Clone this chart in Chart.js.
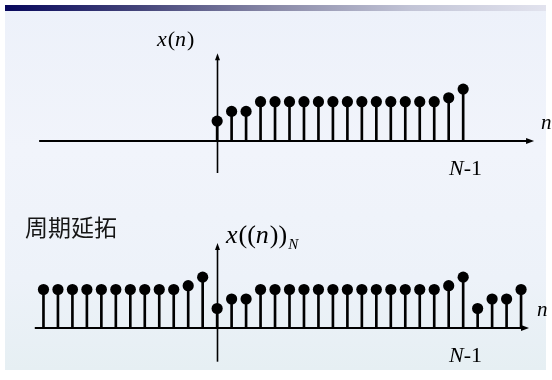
<!DOCTYPE html>
<html>
<head>
<meta charset="utf-8">
<script src="https://cdn.jsdelivr.net/npm/chart.js@4/dist/chart.umd.min.js"></script>
<style>
  html, body { margin: 0; padding: 0; background: #fff; }
  #slide {
    position: absolute; left: 5px; top: 5px; width: 541px; height: 365px;
    background: linear-gradient(180deg, #edf1fa 0%, #f1f4fb 40%, #edf2f9 75%, #e6eff3 100%);
  }
  #bar {
    position: absolute; left: 5px; top: 5px; width: 541px; height: 6px;
    background: linear-gradient(90deg, #08085c 0%, #45457a 25%, #8a8aa8 50%, #c2c4d6 75%, #e2e3ee 100%);
  }
  canvas { position: absolute; left: 0; top: 0; }
</style>
</head>
<body>
<div id="slide"></div>
<div id="bar"></div>
<canvas id="topChart" width="552" height="380"></canvas>
<canvas id="perChart" width="552" height="380"></canvas>
<script>
// x(n), n = 0 .. N-1 (N = 18)
const nTop = [0, 1, 2, 3, 4, 5, 6, 7, 8, 9, 10, 11, 12, 13, 14, 15, 16, 17];
const xTop = [2, 3, 3, 4, 4, 4, 4, 4, 4, 4, 4, 4, 4, 4, 4, 4, 4.4, 5.3];

// x((n))_N, periodic extension shown for n = -12 .. 21
const nPer = [-12, -11, -10, -9, -8, -7, -6, -5, -4, -3, -2, -1,
              0, 1, 2, 3, 4, 5, 6, 7, 8, 9, 10, 11, 12, 13, 14, 15, 16, 17,
              18, 19, 20, 21];
const xPer = [4, 4, 4, 4, 4, 4, 4, 4, 4, 4, 4.4, 5.3,
              2, 3, 3, 4, 4, 4, 4, 4, 4, 4, 4, 4, 4, 4, 4, 4, 4.4, 5.3,
              2, 3, 3, 4];

const serif = '"Liberation Serif", "DejaVu Serif", serif';

// draws mixed italic / upright pieces one after another
// piece: [text, italic, size, dy, gapAfter]
function drawMath(ctx, parts, x, y) {
    let cx = x;
    parts.forEach(p => {
        const [text, italic, size, dy, gap] = p;
        ctx.font = (italic ? 'italic ' : '') + size + 'px ' + serif;
        ctx.fillText(text, cx, y + (dy || 0));
        cx += ctx.measureText(text).width + (gap || 0);
    });
}

const stemAxes = {
    id: 'stemAxes',
    beforeDatasetsDraw(chart, args, o) {
        const { ctx } = chart;
        const x = chart.scales.x, y = chart.scales.y;
        const y0 = Math.round(y.getPixelForValue(0));
        const x0 = Math.round(x.getPixelForValue(0)) + 0.5;
        const xa = x.getPixelForValue(o.xFrom), xb = x.getPixelForValue(o.xTo);
        const ya = y.getPixelForValue(o.yFrom), yb = y.getPixelForValue(o.yTo);
        ctx.save();
        ctx.strokeStyle = '#000';
        ctx.fillStyle = '#000';

        // horizontal axis with arrow
        ctx.lineWidth = 2;
        ctx.beginPath();
        ctx.moveTo(xa, y0);
        ctx.lineTo(xb - 5, y0);
        ctx.stroke();
        ctx.beginPath();
        ctx.moveTo(xb, y0);
        ctx.lineTo(xb - 8, y0 - 3);
        ctx.lineTo(xb - 8, y0 + 3);
        ctx.closePath();
        ctx.fill();

        // vertical axis with arrow
        ctx.lineWidth = 1.6;
        ctx.beginPath();
        ctx.moveTo(x0, ya);
        ctx.lineTo(x0, yb + 5);
        ctx.stroke();
        ctx.beginPath();
        ctx.moveTo(x0, yb);
        ctx.lineTo(x0 - 2.5, yb + 7);
        ctx.lineTo(x0 + 2.5, yb + 7);
        ctx.closePath();
        ctx.fill();
        ctx.restore();
    },
    afterDatasetsDraw(chart, args, o) {
        const { ctx } = chart;
        ctx.save();
        ctx.fillStyle = '#000';
        ctx.textBaseline = 'alphabetic';
        (o.labels || []).forEach(l => {
            if (l.cjk) {
                ctx.font = l.size + 'px "Noto Sans CJK SC", sans-serif';
                ctx.fillStyle = '#161616';
                ctx.fillText(l.cjk, l.x, l.y);
                ctx.fillStyle = '#000';
            } else {
                drawMath(ctx, l.parts, l.x, l.y);
            }
        });
        ctx.restore();
    }
};

function stemChart(id, ns, vals, pad, axes) {
    const pts = ns.map((n, i) => ({ x: n, y: vals[i] }));
    return new Chart(document.getElementById(id), {
        type: 'bar',
        data: {
            datasets: [
                {
                    type: 'scatter',
                    data: pts,
                    pointRadius: 5.6,
                    pointBackgroundColor: '#000',
                    pointBorderWidth: 0,
                    clip: false
                },
                {
                    type: 'bar',
                    data: pts,
                    backgroundColor: '#000',
                    barThickness: 2,
                    borderWidth: 0,
                    clip: false
                }
            ]
        },
        options: {
            responsive: false,
            animation: false,
            events: [],
            layout: { padding: pad, autoPadding: false },
            scales: {
                x: { type: 'linear', min: -13, max: 23, offset: false, display: false },
                y: { type: 'linear', min: -4, max: 10, display: false }
            },
            plugins: {
                legend: { display: false },
                tooltip: { enabled: false },
                stemAxes: axes
            }
        },
        plugins: [stemAxes]
    });
}

stemChart('topChart', nTop, xTop,
    { left: 29, right: 2, top: 43.5, bottom: 200.7 },
    {
        xFrom: -12.3, xTo: 21.9, yFrom: -3.35, yTo: 9.0,
        labels: [
            { parts: [['x', true, 22, 0, 1], ['(', false, 22], ['n', true, 22, 0, 1], [')', false, 22]], x: 157, y: 46 },
            { parts: [['n', true, 21]], x: 541, y: 128.5 },
            { parts: [['N', true, 22], ['-1', false, 22]], x: 449, y: 174.5 }
        ]
    });

stemChart('perChart', nPer, xPer,
    { left: 29, right: 2, top: 232.5, bottom: 14.5 },
    {
        xFrom: -12.6, xTo: 21.55, yFrom: -3.6, yTo: 8.9,
        labels: [
            { cjk: '周期延拓', size: 23, x: 25, y: 236 },
            { parts: [['x', true, 26, 0, 1], ['((', false, 26], ['n', true, 26, 0, 1],
                      ['))', false, 26, 0, 1], ['N', true, 15, 6]], x: 226, y: 243 },
            { parts: [['n', true, 21]], x: 537, y: 316 },
            { parts: [['N', true, 22], ['-1', false, 22]], x: 449, y: 361.5 }
        ]
    });
</script>
</body>
</html>
